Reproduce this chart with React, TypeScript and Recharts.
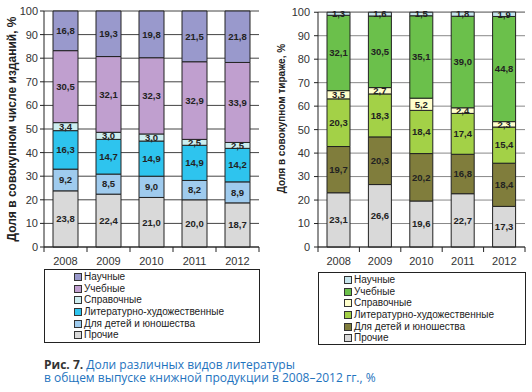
import { Bar, BarChart, CartesianGrid, LabelList, XAxis, YAxis } from 'recharts'

// годы и серии (снизу вверх по стеку)
const years = ['2008', '2009', '2010', '2011', '2012']
const seriesNames = [
    'Прочие',
    'Для детей и юношества',
    'Литературно-художественные',
    'Справочные',
    'Учебные',
    'Научные',
]

// доля в совокупном числе изданий, %
const editionsOther = [23.8, 22.4, 21.0, 20.0, 18.7]
const editionsKids = [9.2, 8.5, 9.0, 8.2, 8.9]
const editionsFiction = [16.3, 14.7, 14.9, 14.9, 14.2]
const editionsReference = [3.4, 3.0, 3.0, 2.5, 2.5]
const editionsEducational = [30.5, 32.1, 32.3, 32.9, 33.9]
const editionsScientific = [16.8, 19.3, 19.8, 21.5, 21.8]

// доля в совокупном тираже, %
const printOther = [23.1, 26.6, 19.6, 22.7, 17.3]
const printKids = [19.7, 20.3, 20.2, 16.8, 18.4]
const printFiction = [20.3, 18.3, 18.4, 17.4, 15.4]
const printReference = [3.5, 2.7, 5.2, 2.4, 2.3]
const printEducational = [32.1, 30.5, 35.1, 39.0, 44.8]
const printScientific = [1.3, 1.6, 1.5, 1.8, 1.9]

const yTicks = [0, 10, 20, 30, 40, 50, 60, 70, 80, 90, 100]

const leftColors = ['#d9d9d9', '#9fcbee', '#2ec4ee', '#cdeef0', '#c09fcf', '#9999cc']
const rightColors = ['#d9d9d9', '#807d3c', '#a3d147', '#ffffcc', '#6bc04b', '#c7e6ee']

const FONT = '"Liberation Sans", Arial, sans-serif'

function buildRows(series: number[][]) {
    return years.map((year, i) => {
        const row: Record<string, string | number> = { year }
        series.forEach((values, s) => {
            row['s' + s] = values[i]
        })
        return row
    })
}

const editionsRows = buildRows([
    editionsOther,
    editionsKids,
    editionsFiction,
    editionsReference,
    editionsEducational,
    editionsScientific,
])
const printRows = buildRows([
    printOther,
    printKids,
    printFiction,
    printReference,
    printEducational,
    printScientific,
])

const fmt = (v: unknown) => Number(v).toFixed(1).replace('.', ',')

type TickProps = { x?: number; y?: number; index?: number; payload?: { value: string } }

function makeYearTick(halfStep: number) {
    return function YearTick({ x = 0, y = 0, index = 0, payload }: TickProps) {
        return (
            <g>
                <line x1={x - halfStep} x2={x - halfStep} y1={y} y2={y + 5} stroke="#222" />
                {index === years.length - 1 && (
                    <line x1={x + halfStep} x2={x + halfStep} y1={y} y2={y + 5} stroke="#222" />
                )}
                <text
                    x={x}
                    y={y + 18}
                    textAnchor="middle"
                    fontSize={11}
                    fill="#333"
                    fontFamily={FONT}
                >
                    {payload?.value}
                </text>
            </g>
        )
    }
}

interface StackChartProps {
    rows: Record<string, string | number>[]
    colors: string[]
    axisWidth: number
    barSize: number
    gridColor: string
    title: string
    titleSize: number
    titleDx: number
    titleDy: number
    tickMargin: number
    top: number
}

function StackChart({
    rows,
    colors,
    axisWidth,
    barSize,
    gridColor,
    title,
    titleSize,
    titleDx,
    titleDy,
    tickMargin,
    top,
}: StackChartProps) {
    const width = 262
    const right = 3
    const halfStep = (width - axisWidth - right) / years.length / 2
    return (
        <BarChart
            width={width}
            height={270}
            data={rows}
            margin={{ top, right, bottom: 0, left: 0 }}
            barSize={barSize}
            style={{ fontFamily: FONT }}
        >
            <CartesianGrid vertical={false} stroke={gridColor} />
            <XAxis
                dataKey="year"
                height={23}
                tickLine={false}
                tickSize={0}
                tickMargin={0}
                axisLine={{ stroke: '#222' }}
                tick={makeYearTick(halfStep)}
                interval={0}
            />
            <YAxis
                width={axisWidth}
                domain={[0, 100]}
                ticks={yTicks}
                interval={0}
                tickSize={4}
                tickMargin={tickMargin}
                axisLine={{ stroke: '#222' }}
                tickLine={{ stroke: '#222' }}
                tick={{ fontSize: 11, fill: '#333' }}
                label={{
                    value: title,
                    angle: -90,
                    position: 'center',
                    dx: titleDx,
                    dy: titleDy,
                    style: { fontSize: titleSize, fontWeight: 'bold', fill: '#222' },
                }}
            />
            <YAxis
                yAxisId="border"
                orientation="right"
                width={0}
                domain={[0, 100]}
                tick={false}
                tickLine={false}
                axisLine={{ stroke: gridColor }}
            />
            {colors.map((color, s) => (
                <Bar
                    key={s}
                    dataKey={'s' + s}
                    name={seriesNames[s]}
                    stackId="a"
                    fill={color}
                    stroke="#222"
                    strokeWidth={1}
                    isAnimationActive={false}
                >
                    <LabelList
                        dataKey={'s' + s}
                        position="center"
                        formatter={fmt}
                        style={{ fontSize: 9.5, fontWeight: 'bold', fill: '#222' }}
                    />
                </Bar>
            ))}
        </BarChart>
    )
}

function LegendBox({
    colors,
    left,
    top,
    width,
    height,
    padLeft,
}: {
    colors: string[]
    left: number
    top: number
    width: number
    height: number
    padLeft: number
}) {
    const order = seriesNames.map((_, i) => seriesNames.length - 1 - i)
    return (
        <div
            style={{
                position: 'absolute',
                left,
                top,
                width,
                height,
                boxSizing: 'border-box',
                border: '1px solid #222',
                paddingLeft: padLeft,
                paddingTop: 1,
                fontFamily: FONT,
                fontSize: 10,
                color: '#222',
            }}
        >
            {order.map((i) => (
                <div
                    key={i}
                    style={{
                        display: 'flex',
                        alignItems: 'center',
                        whiteSpace: 'nowrap',
                        height: 11.7,
                        lineHeight: '11.7px',
                    }}
                >
                    <span
                        style={{
                            display: 'inline-block',
                            width: 6,
                            height: 6,
                            border: '1px solid #333',
                            background: colors[i],
                            marginRight: 2,
                        }}
                    />
                    {seriesNames[i]}
                </div>
            ))}
        </div>
    )
}

export default function App() {
    return (
        <div
            style={{
                position: 'absolute',
                left: 0,
                top: 0,
                width: 532,
                height: 392,
                background: '#fff',
            }}
        >
            <div style={{ position: 'absolute', left: 0, top: 0 }}>
                <StackChart
                    rows={editionsRows}
                    colors={leftColors}
                    axisWidth={44}
                    barSize={25}
                    gridColor="#444"
                    title="Доля в совокупном числе изданий, %"
                    titleSize={12}
                    titleDx={-10}
                    titleDy={0}
                    tickMargin={2}
                    top={11}
                />
            </div>
            <div style={{ position: 'absolute', left: 266, top: 0 }}>
                <StackChart
                    rows={printRows}
                    colors={rightColors}
                    axisWidth={52}
                    barSize={23}
                    gridColor="#888"
                    title="Доля в совокупном тираже, %"
                    titleSize={10}
                    titleDx={-11}
                    titleDy={-11}
                    tickMargin={4}
                    top={12}
                />
            </div>
            <LegendBox colors={leftColors} left={44} top={269} width={216} height={74} padLeft={29} />
            <LegendBox colors={rightColors} left={318} top={272} width={208} height={73} padLeft={25} />
            <div
                style={{
                    position: 'absolute',
                    left: 44,
                    top: 358,
                    fontFamily: '"Open Sans", "Noto Sans", sans-serif',
                    fontSize: 12,
                    lineHeight: '13px',
                    color: '#1e73be',
                    whiteSpace: 'nowrap',
                }}
            >
                <div>
                    <span style={{ fontWeight: 'bold', color: '#333' }}>Рис. 7.</span> Доли различных видов
                    литературы
                </div>
                <div>в общем выпуске книжной продукции в 2008–2012 гг., %</div>
            </div>
        </div>
    )
}
